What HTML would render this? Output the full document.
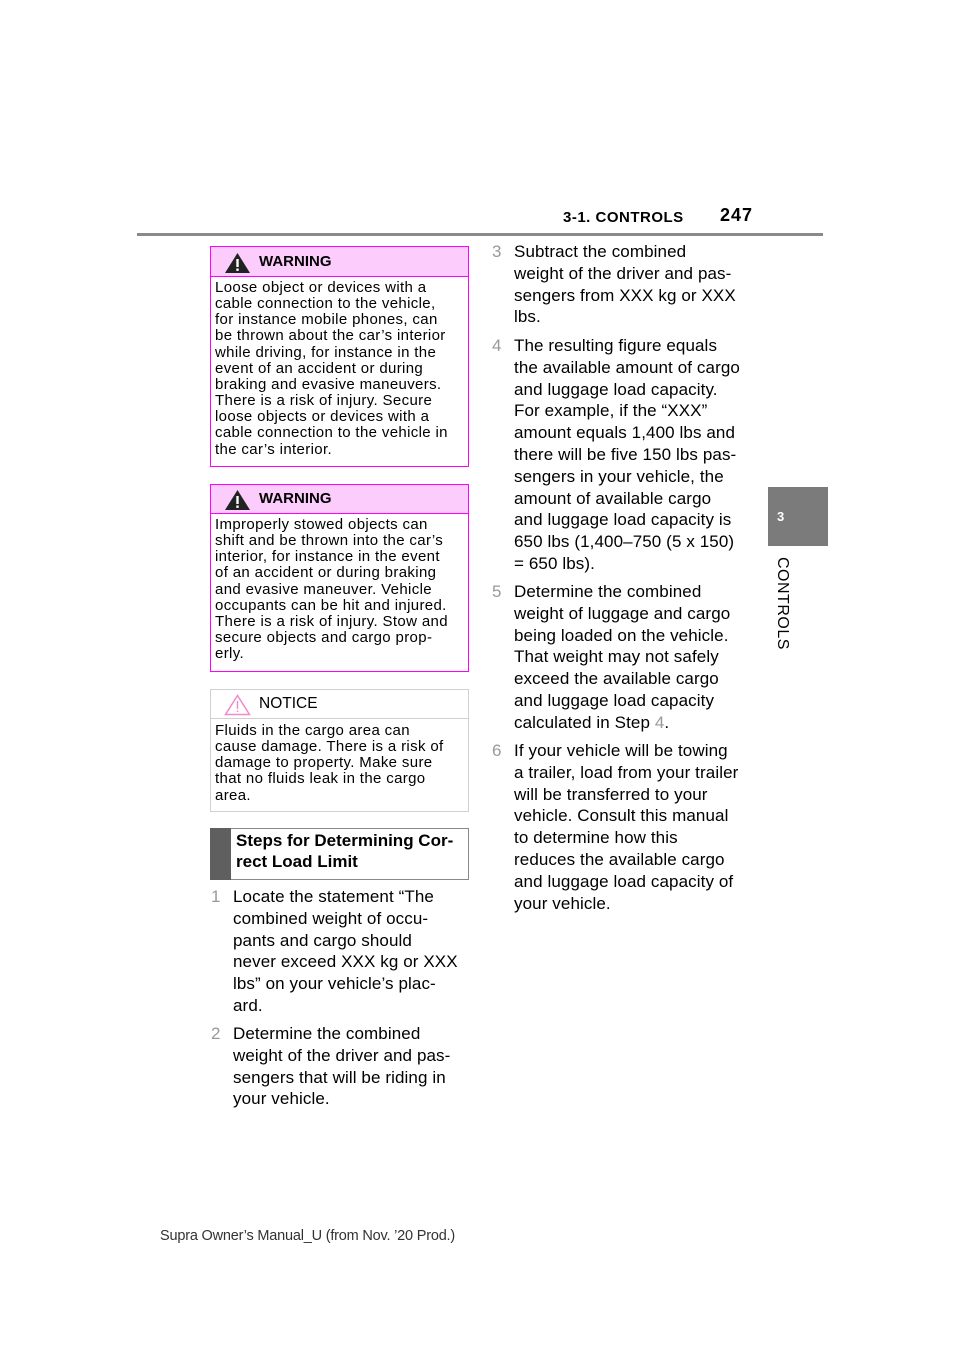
<!DOCTYPE html>
<html><head><meta charset="utf-8"><style>
body{margin:0;width:960px;height:1358px;position:relative;background:#fff;font-family:"Liberation Sans",sans-serif;color:#000;overflow:hidden}
.a{position:absolute;white-space:nowrap}
.box{position:absolute;box-sizing:border-box}
.wt{position:absolute;left:4px;font-size:15px;letter-spacing:0.35px;line-height:16.15px;white-space:nowrap}
.p{position:absolute;font-size:17px;line-height:21.8px;white-space:nowrap;letter-spacing:0.1px}
.n{position:absolute;font-size:17px;line-height:21.8px;color:#999}
</style></head><body>
<div class="a" style="left:563px;top:209px;font-size:15px;font-weight:bold;letter-spacing:0.5px">3-1. CONTROLS</div>
<div class="a" style="left:720px;top:205px;font-size:18px;font-weight:bold;letter-spacing:1px">247</div>
<div class="box" style="left:137px;top:233px;width:686px;height:3px;background:#8a8a8a"></div>
<div class="box" style="left:768px;top:487px;width:60px;height:59px;background:#7b7b7b"></div>
<div class="a" style="left:777px;top:509px;font-size:13px;font-weight:bold;color:#fff">3</div>
<div class="a" style="left:771px;top:557px;font-size:16px;transform-origin:0 0;transform:translate(20px,0) rotate(90deg);letter-spacing:0.5px">CONTROLS</div>

<div class="box" style="left:210px;top:246px;width:259px;height:221px;border:1px solid #f0f">
<div style="height:29px;background:#fcccfc;border-bottom:1px solid #f0f"></div>
<svg style="position:absolute;left:13px;top:5px" width="27" height="22"><polygon points="13.5,1 26,21 1,21" fill="#222"/><rect x="12.3" y="7" width="2.4" height="8" fill="#fff"/><rect x="12.3" y="16.5" width="2.4" height="2.4" fill="#fff"/></svg>
<div class="a" style="left:48px;top:6px;font-size:15px;font-weight:bold">WARNING</div>
<div class="wt" style="top:33px">Loose object or devices with a<br>cable connection to the vehicle,<br>for instance mobile phones, can<br>be thrown about the car’s interior<br>while driving, for instance in the<br>event of an accident or during<br>braking and evasive maneuvers.<br>There is a risk of injury. Secure<br>loose objects or devices with a<br>cable connection to the vehicle in<br>the car’s interior.</div>
</div>

<div class="box" style="left:210px;top:484px;width:259px;height:188px;border:1px solid #f0f">
<div style="height:28px;background:#fcccfc;border-bottom:1px solid #f0f"></div>
<svg style="position:absolute;left:13px;top:4px" width="27" height="22"><polygon points="13.5,1 26,21 1,21" fill="#222"/><rect x="12.3" y="7" width="2.4" height="8" fill="#fff"/><rect x="12.3" y="16.5" width="2.4" height="2.4" fill="#fff"/></svg>
<div class="a" style="left:48px;top:5px;font-size:15px;font-weight:bold">WARNING</div>
<div class="wt" style="top:32px">Improperly stowed objects can<br>shift and be thrown into the car’s<br>interior, for instance in the event<br>of an accident or during braking<br>and evasive maneuver. Vehicle<br>occupants can be hit and injured.<br>There is a risk of injury. Stow and<br>secure objects and cargo prop-<br>erly.</div>
</div>

<div class="box" style="left:210px;top:689px;width:259px;height:123px;border:1px solid #d0d0d0">
<div style="height:28px;border-bottom:1px solid #d0d0d0"></div>
<svg style="position:absolute;left:13px;top:4px" width="27" height="22"><polygon points="13.5,1.5 25.5,20.5 1.5,20.5" fill="none" stroke="#f08ac8" stroke-width="1.5"/><rect x="12.8" y="7" width="1.4" height="8" fill="#f08ac8"/><rect x="12.8" y="16.5" width="1.4" height="1.6" fill="#f08ac8"/></svg>
<div class="a" style="left:48px;top:5px;font-size:15.5px">NOTICE</div>
<div class="wt" style="top:33px">Fluids in the cargo area can<br>cause damage. There is a risk of<br>damage to property. Make sure<br>that no fluids leak in the cargo<br>area.</div>
</div>

<div class="box" style="left:210px;top:828px;width:259px;height:52px;border:1px solid #888"></div>
<div class="box" style="left:210px;top:828px;width:21px;height:52px;background:#5f5f5f"></div>
<div class="a" style="left:236px;top:830px;font-size:17px;font-weight:bold;line-height:21px">Steps for Determining Cor-<br>rect Load Limit</div>

<div class="n" style="left:211px;top:886px">1</div>
<div class="p" style="left:233px;top:886px">Locate the statement “The<br>combined weight of occu-<br>pants and cargo should<br>never exceed XXX kg or XXX<br>lbs” on your vehicle’s plac-<br>ard.</div>
<div class="n" style="left:211px;top:1023px">2</div>
<div class="p" style="left:233px;top:1023px">Determine the combined<br>weight of the driver and pas-<br>sengers that will be riding in<br>your vehicle.</div>

<div class="n" style="left:492px;top:241px">3</div>
<div class="p" style="left:514px;top:241px">Subtract the combined<br>weight of the driver and pas-<br>sengers from XXX kg or XXX<br>lbs.</div>
<div class="n" style="left:492px;top:335px">4</div>
<div class="p" style="left:514px;top:335px">The resulting figure equals<br>the available amount of cargo<br>and luggage load capacity.<br>For example, if the “XXX”<br>amount equals 1,400 lbs and<br>there will be five 150 lbs pas-<br>sengers in your vehicle, the<br>amount of available cargo<br>and luggage load capacity is<br>650 lbs (1,400–750 (5 x 150)<br>= 650 lbs).</div>
<div class="n" style="left:492px;top:581px">5</div>
<div class="p" style="left:514px;top:581px">Determine the combined<br>weight of luggage and cargo<br>being loaded on the vehicle.<br>That weight may not safely<br>exceed the available cargo<br>and luggage load capacity<br>calculated in Step <span style="color:#999">4</span>.</div>
<div class="n" style="left:492px;top:740px">6</div>
<div class="p" style="left:514px;top:740px">If your vehicle will be towing<br>a trailer, load from your trailer<br>will be transferred to your<br>vehicle. Consult this manual<br>to determine how this<br>reduces the available cargo<br>and luggage load capacity of<br>your vehicle.</div>

<div class="a" style="left:160px;top:1228px;font-size:14.5px;color:#333;letter-spacing:-0.2px">Supra Owner’s Manual_U (from Nov. ’20 Prod.)</div>
</body></html>
